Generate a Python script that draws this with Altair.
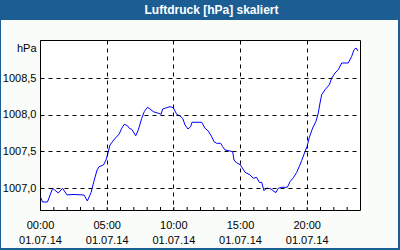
import altair as alt
import pandas as pd

# ---- data ----
hours = [0.05, 0.19, 0.56, 0.95, 1.37, 1.69, 2.03, 2.48, 3.30, 3.55, 3.83, 4.05, 4.28, 4.43,
         4.76, 4.95, 5.12, 5.25, 5.63, 5.93, 6.13, 6.32, 6.55, 6.70, 6.88, 7.18, 7.37, 7.63,
         7.82, 8.06, 8.25, 8.50, 8.87, 9.08, 9.20, 9.50, 9.75, 10.00, 10.25, 10.50, 10.70,
         10.88, 11.10, 11.30, 11.40, 12.13, 12.38, 12.62, 12.88, 13.05, 13.25, 13.55, 13.70,
         13.88, 14.25, 14.45, 14.55, 14.75, 15.00, 15.13, 15.38, 15.75, 16.00, 16.24, 16.45,
         16.63, 16.80, 17.00, 17.33, 17.55, 17.70, 17.87, 18.13, 18.55, 18.75, 19.00, 19.25,
         19.45, 19.63, 19.88, 20.03, 20.20, 20.45, 20.70, 20.87, 21.00, 21.13, 21.38, 21.70,
         21.88, 22.13, 22.37, 22.63, 23.12, 23.38, 23.55, 23.70, 23.85]
pressure = [1006.873, 1006.809, 1006.809, 1006.996, 1006.932, 1006.996, 1006.905, 1006.912,
            1006.905, 1006.823, 1006.939, 1007.096, 1007.246, 1007.291, 1007.314, 1007.382,
            1007.492, 1007.587, 1007.679, 1007.733, 1007.815, 1007.870, 1007.851, 1007.815,
            1007.801, 1007.714, 1007.792, 1007.951, 1008.042, 1008.102, 1008.078, 1008.042,
            1008.020, 1008.006, 1008.078, 1008.096, 1008.110, 1008.096, 1008.006, 1007.983,
            1007.951, 1007.860, 1007.805, 1007.837, 1007.897, 1007.897, 1007.815, 1007.778,
            1007.700, 1007.632, 1007.610, 1007.610, 1007.564, 1007.519, 1007.505, 1007.496,
            1007.382, 1007.342, 1007.321, 1007.287, 1007.215, 1007.178, 1007.133, 1007.146,
            1007.078, 1007.075, 1006.963, 1007.000, 1006.987, 1006.953, 1006.939, 1006.996,
            1007.010, 1007.010, 1007.086, 1007.140, 1007.212, 1007.296, 1007.376, 1007.498,
            1007.567, 1007.692, 1007.819, 1007.911, 1008.024, 1008.160, 1008.274, 1008.342,
            1008.410, 1008.501, 1008.570, 1008.615, 1008.706, 1008.706, 1008.798, 1008.888,
            1008.911, 1008.870]

x_tick_hours = [0, 5, 10, 15, 20]
x_tick_times = ["00:00", "05:00", "10:00", "15:00", "20:00"]
date_label = "01.07.14"
minor_tick_hours = list(range(0, 25))
y_tick_values = [1007.0, 1007.5, 1008.0, 1008.5]
title_text = "Luftdruck [hPa] skaliert"
unit_text = "hPa"

BLUE = "#1c5e94"
BODY = "#f9fcf9"
FONT = "Liberation Sans"

df = pd.DataFrame({"h": hours, "p": pressure})
one = alt.Data(values=[{"k": 1}])

x_scale = alt.Scale(domain=[0, 24], nice=False, zero=False)
y_scale = alt.Scale(domain=[1006.7, 1009.02], nice=False, zero=False)

time_expr = " : ".join(
    f"datum.value == {h} ? '{t}'" for h, t in zip(x_tick_hours, x_tick_times)
) + " : ''"
x_label_expr = f"[({time_expr}), '{date_label}']"

x_axis = alt.Axis(
    values=x_tick_hours, labelExpr=x_label_expr, title=None,
    domain=False, ticks=False, grid=True, gridColor="black", gridDash=[4, 4],
    gridWidth=1, gridOpacity=1, labelFont=FONT, labelFontSize=11, labelColor="black",
    labelBaseline="alphabetic", labelPadding=18.5, labelLineHeight=14.5,
    labelAlign="center", labelFlush=False, labelOverlap=False, zindex=1)

body = alt.Chart(one).mark_rect(color=BODY).encode(
    x=alt.value(-39), x2=alt.value(358), y=alt.value(-20), y2=alt.value(208)
)
frame = alt.Chart(one).mark_rect(fill="white", stroke="black", strokeWidth=1).encode(
    x=alt.value(0.5), x2=alt.value(320.5), y=alt.value(0.5), y2=alt.value(170.5)
)
title = alt.Chart(one).mark_text(
    text=title_text, font=FONT, fontSize=12, fontWeight="bold", color="white",
    align="center", baseline="alphabetic"
).encode(x=alt.value(171.5), y=alt.value(-26))

ticks = alt.Chart(pd.DataFrame({"h": minor_tick_hours})).mark_rule(
    color="black", strokeWidth=1, xOffset=0.5
).encode(
    x=alt.X("h:Q", scale=x_scale, axis=x_axis),
    y=alt.value(167), y2=alt.value(170)
)

line = alt.Chart(df).mark_line(color="#0000ff", strokeWidth=1).encode(
    x=alt.X("h:Q", scale=x_scale, axis=x_axis),
    y=alt.Y("p:Q", scale=y_scale, axis=alt.Axis(
        values=y_tick_values,
        labelExpr="replace(format(datum.value, '.1f'), '.', ',')",
        title=unit_text, titleAngle=0, titleAlign="right", titleBaseline="alphabetic",
        titleX=-4, titleY=11, titleFont=FONT, titleFontSize=11, titleFontWeight="normal",
        titleColor="black",
        domain=False, ticks=False, grid=True, gridColor="black", gridDash=[4, 4],
        gridWidth=1, gridOpacity=1, labelFont=FONT, labelFontSize=11, labelColor="black",
        labelPadding=4, labelOverlap=False, zindex=1))
)

chart = alt.layer(body, frame, ticks, line, title).properties(
    width=320, height=170,
    autosize=alt.AutoSizeParams(type="none"),
    padding={"left": 40, "top": 40, "right": 40, "bottom": 40},
    background=BLUE,
).configure_view(strokeWidth=0)

chart.save("out.html", embed_options={"renderer": "svg", "actions": False})
